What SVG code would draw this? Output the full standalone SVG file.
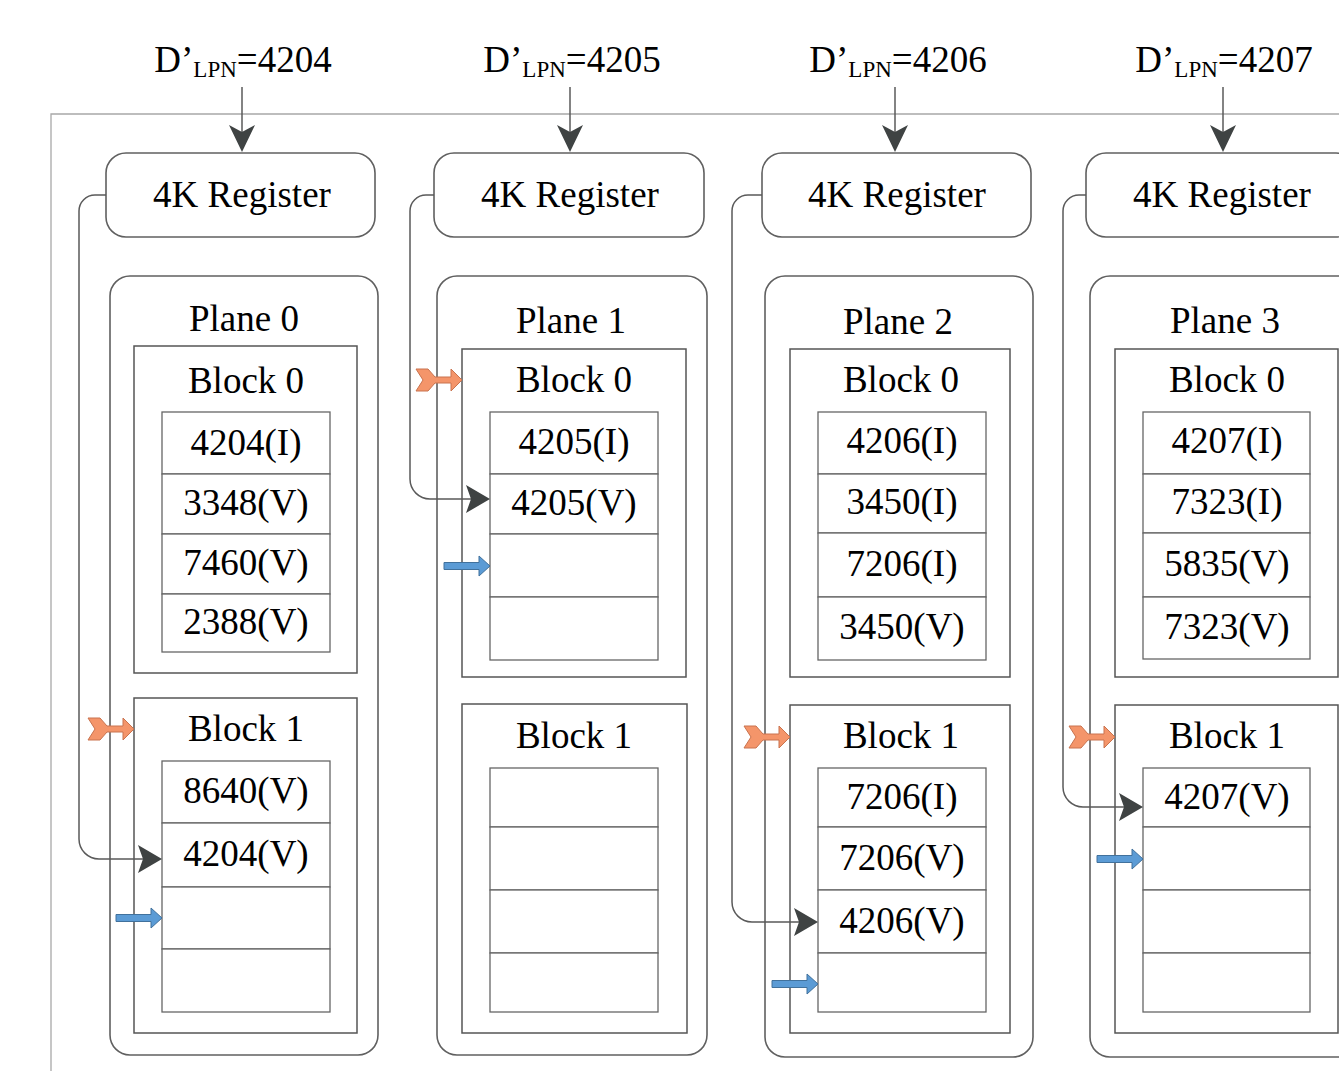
<svg xmlns="http://www.w3.org/2000/svg" xmlns:xlink="http://www.w3.org/1999/xlink" width="1339" height="1071" viewBox="0 0 1339 1071">
<style>
text{font-family:"Liberation Serif","Times New Roman",serif;fill:#000;text-anchor:middle}
.lbl{font-size:37px}
.t{font-size:37px}
.c{font-size:37px}
.sub{font-size:23px}
.reg,.plane{fill:#fff;stroke:#606060;stroke-width:1.6}
.blk{fill:#fff;stroke:#555;stroke-width:1.5}
.cell{fill:#fff;stroke:#666;stroke-width:1.3}
.frame{fill:none;stroke:#a8a8a8;stroke-width:1.3}
.wire{fill:none;stroke:#5a5a5a;stroke-width:1.5}
.head{fill:#3f4343}
.orange{fill:#F4956A;stroke:#C9734E;stroke-width:1}
.blue{fill:#5B9BD5;stroke:#41719C;stroke-width:1}
</style>
<defs>
<polygon id="ah" class="head" points="0,0 -24,-14 -19,0 -24,14"/>
<polygon id="ad" class="head" points="0,0 -13,-27 0,-20 13,-27"/>
<polygon id="oa" class="orange" points="0,0 -11,-11 -11,-3 -27,-3 -34,-11 -46,-11 -39,0 -46,11 -34,11 -27,3 -11,3 -11,11"/>
<polygon id="ba" class="blue" points="0,0 -11,-10 -11,-3.5 -46,-3.5 -46,3.5 -11,3.5 -11,10"/>
</defs>
<path class="frame" d="M51,1071 V114 H1339"/>

<g id="label0"><text class="lbl" x="243" y="72">D’<tspan class="sub" dy="5">LPN</tspan><tspan dy="-5">=4204</tspan></text></g>
<g id="label1"><text class="lbl" x="572" y="72">D’<tspan class="sub" dy="5">LPN</tspan><tspan dy="-5">=4205</tspan></text></g>
<g id="label2"><text class="lbl" x="898" y="72">D’<tspan class="sub" dy="5">LPN</tspan><tspan dy="-5">=4206</tspan></text></g>
<g id="label3"><text class="lbl" x="1224" y="72">D’<tspan class="sub" dy="5">LPN</tspan><tspan dy="-5">=4207</tspan></text></g>

<g id="register0"><rect class="reg" x="106" y="153" width="269" height="84" rx="20"/><text class="t" x="242" y="207">4K Register</text></g>
<g id="register1"><rect class="reg" x="434" y="153" width="270" height="84" rx="20"/><text class="t" x="570" y="207">4K Register</text></g>
<g id="register2"><rect class="reg" x="762" y="153" width="269" height="84" rx="20"/><text class="t" x="897" y="207">4K Register</text></g>
<g id="register3"><rect class="reg" x="1086" y="153" width="270" height="84" rx="20"/><text class="t" x="1222" y="207">4K Register</text></g>

<g id="plane0">
<rect class="plane" x="110" y="276" width="268" height="779" rx="20"/>
<text class="t" x="244" y="331">Plane 0</text>
<g id="p0b0"><rect class="blk" x="134" y="346" width="223" height="327"/><text class="t" x="246" y="393">Block 0</text>
<rect class="cell" x="162" y="412" width="168" height="62"/><text class="c" x="246" y="455">4204(I)</text>
<rect class="cell" x="162" y="474" width="168" height="60"/><text class="c" x="246" y="515">3348(V)</text>
<rect class="cell" x="162" y="534" width="168" height="60"/><text class="c" x="246" y="575">7460(V)</text>
<rect class="cell" x="162" y="594" width="168" height="58"/><text class="c" x="246" y="634">2388(V)</text></g>
<g id="p0b1"><rect class="blk" x="134" y="698" width="223" height="335"/><text class="t" x="246" y="741">Block 1</text>
<rect class="cell" x="162" y="761" width="168" height="62"/><text class="c" x="246" y="803">8640(V)</text>
<rect class="cell" x="162" y="823" width="168" height="64"/><text class="c" x="246" y="866">4204(V)</text>
<rect class="cell" x="162" y="887" width="168" height="62"/>
<rect class="cell" x="162" y="949" width="168" height="63"/></g>
</g>

<g id="plane1">
<rect class="plane" x="437" y="276" width="270" height="779" rx="20"/>
<text class="t" x="571" y="333">Plane 1</text>
<g id="p1b0"><rect class="blk" x="462" y="349" width="224" height="328"/><text class="t" x="574" y="392">Block 0</text>
<rect class="cell" x="490" y="412" width="168" height="62"/><text class="c" x="574" y="454">4205(I)</text>
<rect class="cell" x="490" y="474" width="168" height="60"/><text class="c" x="574" y="515">4205(V)</text>
<rect class="cell" x="490" y="534" width="168" height="63"/>
<rect class="cell" x="490" y="597" width="168" height="63"/></g>
<g id="p1b1"><rect class="blk" x="462" y="704" width="225" height="329"/><text class="t" x="574" y="748">Block 1</text>
<rect class="cell" x="490" y="768" width="168" height="59"/>
<rect class="cell" x="490" y="827" width="168" height="63"/>
<rect class="cell" x="490" y="890" width="168" height="63"/>
<rect class="cell" x="490" y="953" width="168" height="59"/></g>
</g>

<g id="plane2">
<rect class="plane" x="765" y="276" width="268" height="781" rx="20"/>
<text class="t" x="898" y="334">Plane 2</text>
<g id="p2b0"><rect class="blk" x="790" y="349" width="220" height="328"/><text class="t" x="901" y="392">Block 0</text>
<rect class="cell" x="818" y="412" width="168" height="62"/><text class="c" x="902" y="453">4206(I)</text>
<rect class="cell" x="818" y="474" width="168" height="59"/><text class="c" x="902" y="514">3450(I)</text>
<rect class="cell" x="818" y="533" width="168" height="64"/><text class="c" x="902" y="576">7206(I)</text>
<rect class="cell" x="818" y="597" width="168" height="63"/><text class="c" x="902" y="639">3450(V)</text></g>
<g id="p2b1"><rect class="blk" x="790" y="705" width="220" height="328"/><text class="t" x="901" y="748">Block 1</text>
<rect class="cell" x="818" y="768" width="168" height="59"/><text class="c" x="902" y="809">7206(I)</text>
<rect class="cell" x="818" y="827" width="168" height="63"/><text class="c" x="902" y="870">7206(V)</text>
<rect class="cell" x="818" y="890" width="168" height="63"/><text class="c" x="902" y="933">4206(V)</text>
<rect class="cell" x="818" y="953" width="168" height="59"/></g>
</g>

<g id="plane3">
<rect class="plane" x="1090" y="276" width="268" height="781" rx="20"/>
<text class="t" x="1225" y="333">Plane 3</text>
<g id="p3b0"><rect class="blk" x="1115" y="349" width="223" height="328"/><text class="t" x="1227" y="392">Block 0</text>
<rect class="cell" x="1143" y="412" width="167" height="62"/><text class="c" x="1227" y="453">4207(I)</text>
<rect class="cell" x="1143" y="474" width="167" height="59"/><text class="c" x="1227" y="514">7323(I)</text>
<rect class="cell" x="1143" y="533" width="167" height="64"/><text class="c" x="1227" y="576">5835(V)</text>
<rect class="cell" x="1143" y="597" width="167" height="62"/><text class="c" x="1227" y="639">7323(V)</text></g>
<g id="p3b1"><rect class="blk" x="1115" y="705" width="223" height="328"/><text class="t" x="1227" y="748">Block 1</text>
<rect class="cell" x="1143" y="768" width="167" height="59"/><text class="c" x="1227" y="809">4207(V)</text>
<rect class="cell" x="1143" y="827" width="167" height="63"/>
<rect class="cell" x="1143" y="890" width="167" height="63"/>
<rect class="cell" x="1143" y="953" width="167" height="59"/></g>
</g>

<g id="connectors">
<path class="wire" d="M242,87 V135"/><use href="#ad" x="242" y="152"/>
<path class="wire" d="M570,87 V135"/><use href="#ad" x="570" y="152"/>
<path class="wire" d="M895,87 V135"/><use href="#ad" x="895" y="152"/>
<path class="wire" d="M1223,87 V135"/><use href="#ad" x="1223" y="152"/>
<path class="wire" d="M106,195 H95 A16,16 0 0 0 79,211 V839 A20,20 0 0 0 99,859 H145"/><use href="#ah" x="162" y="859"/>
<path class="wire" d="M434,195 H426 A16,16 0 0 0 410,211 V479 A20,20 0 0 0 430,499 H473"/><use href="#ah" x="490" y="499"/>
<path class="wire" d="M762,195 H748 A16,16 0 0 0 732,211 V902 A20,20 0 0 0 752,922 H801"/><use href="#ah" x="818" y="922"/>
<path class="wire" d="M1086,195 H1079 A16,16 0 0 0 1063,211 V787 A20,20 0 0 0 1083,807 H1126"/><use href="#ah" x="1143" y="807"/>
<use href="#oa" x="134" y="729"/>
<use href="#oa" x="462" y="380"/>
<use href="#oa" x="790" y="737"/>
<use href="#oa" x="1115" y="737"/>
<use href="#ba" x="162" y="918"/>
<use href="#ba" x="490" y="566"/>
<use href="#ba" x="818" y="984"/>
<use href="#ba" x="1143" y="859"/>
</g>
</svg>
